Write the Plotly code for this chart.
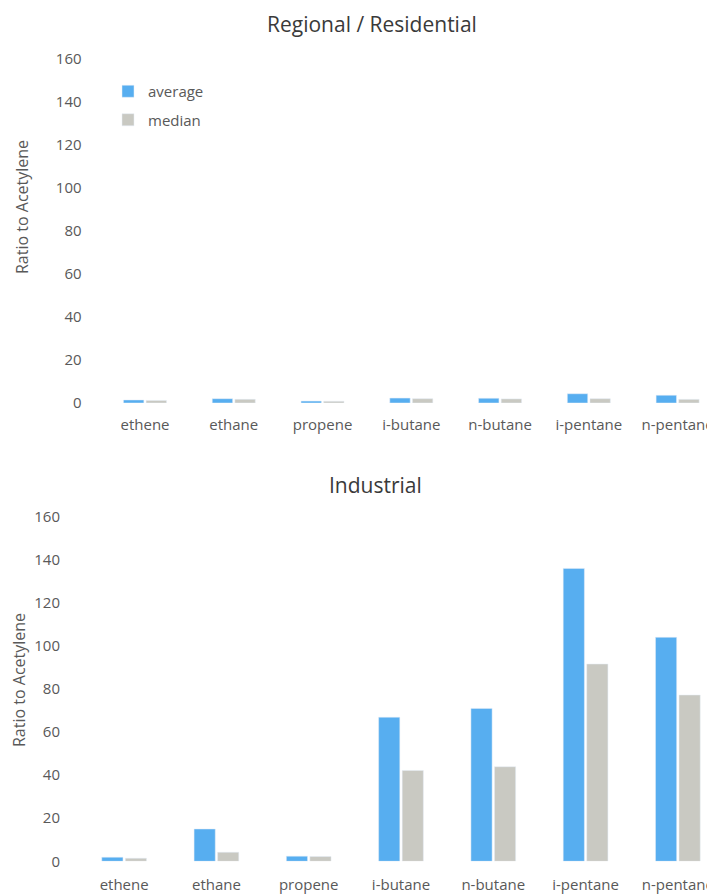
import plotly.graph_objects as go

categories = ["ethene", "ethane", "propene", "i-butane", "n-butane", "i-pentane", "n-pentane"]

res_average = [1.4, 2.0, 0.9, 2.3, 2.2, 4.3, 3.6]
res_median = [1.2, 1.7, 0.8, 2.0, 1.9, 2.0, 1.7]

ind_average = [1.9, 15.0, 2.4, 66.9, 71.0, 136.0, 104.0]
ind_median = [1.4, 4.2, 2.2, 42.2, 43.9, 91.6, 77.2]

y_ticks = [0, 20, 40, 60, 80, 100, 120, 140, 160]

BLUE = "#57aef0"
GRAY = "#c9c9c2"
FONT = "Open Sans"
TICK_COLOR = "#595959"

W, H = 715, 894
OFF = 8  # page body margin


def px(x):
    return (x - OFF) / W


def py(y):
    return 1 - (y - OFF) / H


fig = go.Figure()
fig.add_trace(go.Bar(x=categories, y=res_average, name="average", marker_color=BLUE,
                     xaxis="x", yaxis="y", legendgroup="a"))
fig.add_trace(go.Bar(x=categories, y=res_median, name="median", marker_color=GRAY,
                     xaxis="x", yaxis="y", legendgroup="m"))
fig.add_trace(go.Bar(x=categories, y=ind_average, name="average", marker_color=BLUE,
                     xaxis="x2", yaxis="y2", showlegend=False))
fig.add_trace(go.Bar(x=categories, y=ind_median, name="median", marker_color=GRAY,
                     xaxis="x2", yaxis="y2", showlegend=False))

tickfont = dict(family=FONT, size=15, color=TICK_COLOR)
xcommon = dict(showgrid=False, zeroline=False, showline=False, tickfont=tickfont, automargin=False,
               ticks="outside", tickcolor="rgba(0,0,0,0)", fixedrange=True)
ycommon = dict(showgrid=False, zeroline=False, showline=False, tickfont=tickfont, automargin=False,
               range=[0, 160], tickvals=y_ticks, ticks="", fixedrange=True)

ytitle_font = dict(family=FONT, size=16, color=TICK_COLOR)

fig.update_layout(
    width=W, height=H,
    margin=dict(l=0, r=0, t=0, b=0),
    paper_bgcolor="white", plot_bgcolor="white",
    barmode="group", bargap=0.49, bargroupgap=0.1,
    showlegend=True,
    legend=dict(x=px(108), y=py(75), xanchor="left", yanchor="top",
                font=dict(family=FONT, size=15, color=TICK_COLOR),
                tracegroupgap=6, itemwidth=30, bgcolor="rgba(0,0,0,0)"),
    xaxis=dict(domain=[px(100.6), px(715)], range=[-0.5, 6.5 - (722 - 715) / 88.75], anchor="y",
               ticklen=8, **xcommon),
    yaxis=dict(domain=[py(403), py(59)], anchor="x", ticklabelstandoff=18, **ycommon),
    xaxis2=dict(domain=[px(78), px(715)], range=[-0.5, 6.5 - (724 - 715) / 92.3], anchor="y2",
                ticklen=10, **xcommon),
    yaxis2=dict(domain=[py(861.3), py(516.7)], anchor="x2", ticklabelstandoff=17, **ycommon),
    annotations=[
        dict(text="Regional / Residential", x=px(372), y=py(24), xref="paper", yref="paper",
             xanchor="center", yanchor="middle", showarrow=False,
             font=dict(family=FONT, size=21, color="#3a3a3a")),
        dict(text="Industrial", x=px(376), y=py(485), xref="paper", yref="paper",
             xanchor="center", yanchor="middle", showarrow=False,
             font=dict(family=FONT, size=21, color="#3a3a3a")),
        dict(text="Ratio to Acetylene", x=px(22), y=py(207), xref="paper", yref="paper",
             xanchor="center", yanchor="middle", textangle=-90, showarrow=False, font=ytitle_font),
        dict(text="Ratio to Acetylene", x=px(19), y=py(680), xref="paper", yref="paper",
             xanchor="center", yanchor="middle", textangle=-90, showarrow=False, font=ytitle_font),
    ],
)

fig.write_html("out.html")
